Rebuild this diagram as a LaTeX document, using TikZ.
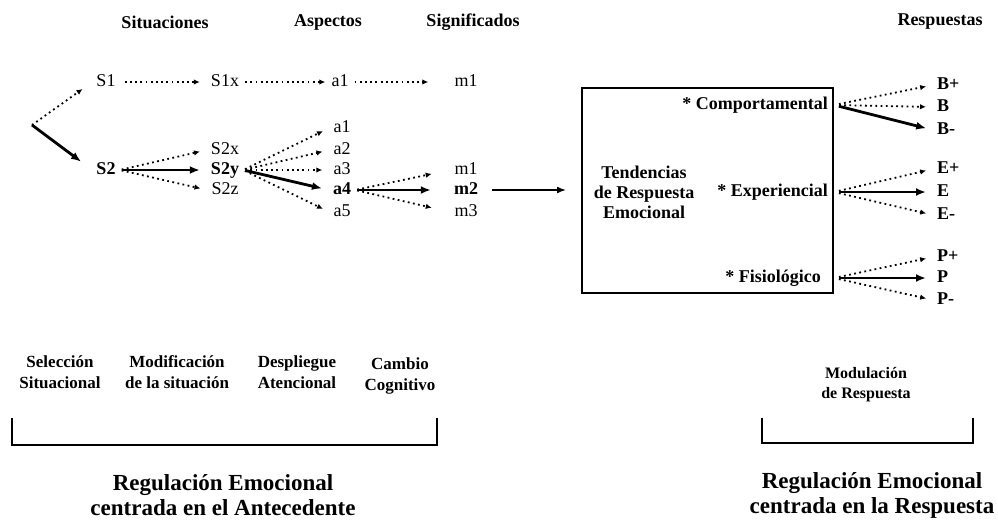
\documentclass[tikz,border=0pt]{standalone}
\usepackage{fontspec}
\setmainfont{Liberation Serif}
\usetikzlibrary{arrows.meta}

\begin{document}
\begin{tikzpicture}[
  x=1pt, y=-1pt,
  every node/.style = {font=\fontsize{18}{20}\selectfont, inner sep=1pt},
  head/.style = {font=\fontsize{18}{20}\selectfont\bfseries},
  item/.style = {inner sep=4pt, text height=12pt, text depth=3pt},
  pick/.style = {item, font=\fontsize{18}{20}\selectfont\bfseries},
  phase/.style = {align=center, font=\fontsize{17}{21}\selectfont\bfseries},
  group/.style = {align=center, font=\fontsize{23}{25}\selectfont\bfseries},
  dots/.style = {line width=1.8pt, dash pattern=on 1.8pt off 3.4pt, shorten <=2pt, shorten >=7pt, -{Latex[length=6pt,width=5.5pt]}},
  thickarrow/.style = {line width=2.8pt, shorten <=2pt, shorten >=7pt, -{Latex[length=10pt,width=8pt]}},
  arrow/.style = {line width=1.6pt, -{Latex[length=9pt,width=7pt]}},
  bracket/.style = {line width=2.4pt}
]
  \useasboundingbox (0,0) rectangle (998,520);

  % Column headers
  \node[head] (hsit) at (165,22) {Situaciones};
  \node[head] (hasp) at (328,22) {Aspectos};
  \node[head] (hsig) at (473,22) {Significados};
  \node[head] (hresp) at (940,22) {Respuestas};

  % First situation
  \node[item] (s1) at (106,82) {S1};
  \node[item] (s1x) at (225,82) {S1x};
  \node[item] (a1top) at (340,82) {a1};
  \node[item] (m1top) at (466,82) {m1};

  % Second situation
  \node[pick] (s2) at (106,170) {S2};
  \node[item] (s2x) at (225,150) {S2x};
  \node[pick] (s2y) at (225,170) {S2y};
  \node[item] (s2z) at (225,190) {S2z};

  % Aspects
  \node[item] (a1) at (342,128) {a1};
  \node[item] (a2) at (342,150) {a2};
  \node[item] (a3) at (342,170) {a3};
  \node[pick] (a4) at (342,190) {a4};
  \node[item] (a5) at (342,212) {a5};

  % Meanings
  \node[item] (m1) at (466,170) {m1};
  \node[pick] (m2) at (466,190) {m2};
  \node[item] (m3) at (466,212) {m3};

  % Emotional response box
  \node[draw, line width=2pt, minimum width=251pt, minimum height=205pt] (box) at (707.5,190.5) {};
  \node[head, align=center] (tend) at (644,192) {Tendencias\\de Respuesta\\Emocional};
  \node[head, anchor=east] (comp) at (829,105) {* Comportamental};
  \node[head, anchor=east] (expe) at (829,192) {* Experiencial};
  \node[head, anchor=east] (fisio) at (822,278) {* Fisiológico};

  % Responses
  \node[pick, anchor=west] (bplus) at (933,85) {B+};
  \node[pick, anchor=west] (bzero) at (933,107) {B};
  \node[pick, anchor=west] (bminus) at (933,130) {B-};
  \node[pick, anchor=west] (eplus) at (933,169) {E+};
  \node[pick, anchor=west] (ezero) at (933,192) {E};
  \node[pick, anchor=west] (eminus) at (933,215) {E-};
  \node[pick, anchor=west] (pplus) at (933,257) {P+};
  \node[pick, anchor=west] (pzero) at (933,278) {P};
  \node[pick, anchor=west] (pminus) at (933,300) {P-};

  % Selection split
  \coordinate (split) at (32,125);
  \draw[dots, shorten <=0pt, shorten >=12pt] (split) -- (s1.west);
  \draw[thickarrow, shorten <=0pt, shorten >=14pt] (split) -- (s2.west);

  % First chain
  \draw[dots, shorten <=5pt] (s1) -- (s1x);
  \draw[dots, shorten >=2pt] (s1x) -- (a1top);
  \draw[dots, shorten >=22pt] (a1top) -- (m1top);

  % Situation modification
  \draw[dots] (s2.east) -- (s2x.west);
  \draw[thickarrow] (s2.east) -- (s2y.west);
  \draw[dots] (s2.east) -- (s2z.west);

  % Attentional deployment
  \draw[dots] (s2y.east) -- (a1.west);
  \draw[dots] (s2y.east) -- (a2.west);
  \draw[dots] (s2y.east) -- (a3.west);
  \draw[thickarrow] (s2y.east) -- (a4.west);
  \draw[dots] (s2y.east) -- (a5.west);

  % Cognitive change
  \draw[dots, shorten >=19pt] (a4.east) -- (m1.west);
  \draw[thickarrow, shorten >=19pt] (a4.east) -- (m2.west);
  \draw[dots, shorten >=19pt] (a4.east) -- (m3.west);

  % Meaning into response tendencies
  \draw[arrow, shorten <=10pt, shorten >=15pt] (m2.east) -- (m2 -| box.west);

  % Response modulation
  \draw[dots, shorten <=5pt] (comp -| box.east) -- (bplus.west);
  \draw[dots, shorten <=5pt] (comp -| box.east) -- (bzero.west);
  \draw[thickarrow, shorten <=5pt] (comp -| box.east) -- (bminus.west);
  \draw[dots, shorten <=5pt] (expe -| box.east) -- (eplus.west);
  \draw[thickarrow, shorten <=5pt] (expe -| box.east) -- (ezero.west);
  \draw[dots, shorten <=5pt] (expe -| box.east) -- (eminus.west);
  \draw[dots, shorten <=5pt] (fisio -| box.east) -- (pplus.west);
  \draw[thickarrow, shorten <=5pt] (fisio -| box.east) -- (pzero.west);
  \draw[dots, shorten <=5pt] (fisio -| box.east) -- (pminus.west);

  % Strategy labels
  \node[phase] (selec) at (60,372) {Selección\\Situacional};
  \node[phase] (modif) at (177,372) {Modificación\\de la situación};
  \node[phase] (despl) at (297,372) {Despliegue\\Atencional};
  \node[phase] (cambio) at (400,376) {Cambio\\Cognitivo};
  \node[phase, font=\fontsize{16}{20}\selectfont\bfseries] (modul) at (866,385) {Modulación\\de Respuesta};

  % Brackets
  \draw[bracket] (12,418) -- (12,445) -- (437,445) -- (437,418);
  \draw[bracket] (762,418) -- (762,443) -- (973,443) -- (973,418);

  % Group titles
  \node[group] (antec) at (223,495) {Regulación Emocional\\centrada en el Antecedente};
  \node[group] (resp) at (872,495) {Regulación Emocional\\centrada en la Respuesta};

\end{tikzpicture}
\end{document}
